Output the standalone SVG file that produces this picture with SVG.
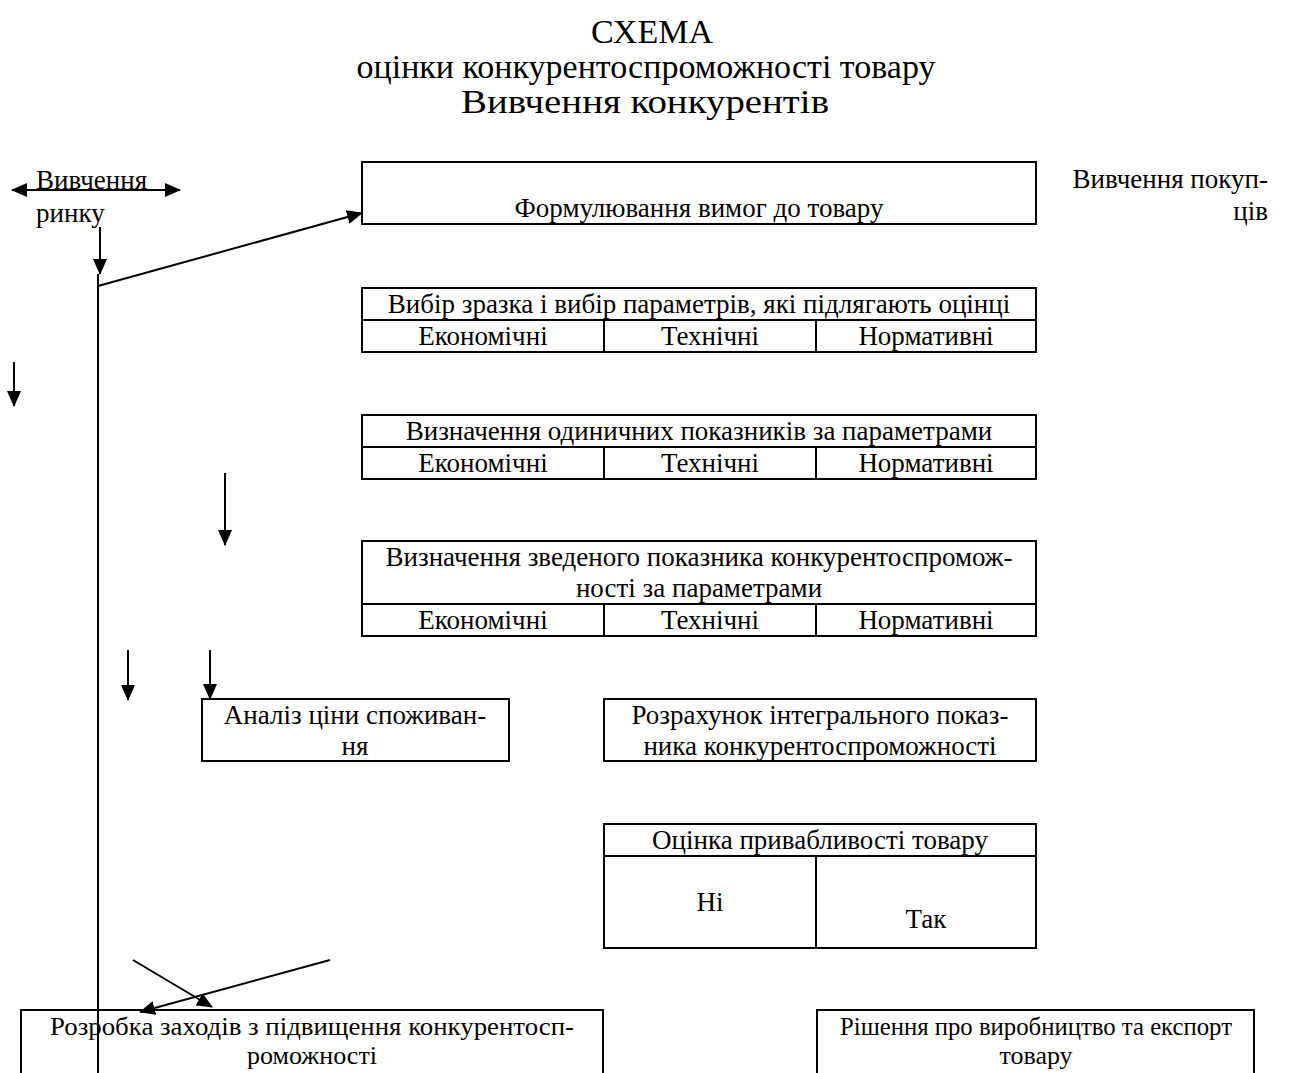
<svg xmlns="http://www.w3.org/2000/svg" width="1291" height="1073" viewBox="0 0 1291 1073">
<style>
text{font-family:"Liberation Serif","Times New Roman",serif;fill:#000}
.t{font-size:34px;text-anchor:middle}
.b{font-size:27px;text-anchor:middle}
.s{font-size:26px;text-anchor:middle}
.l{font-size:27px}
.box{fill:none;stroke:#000;stroke-width:2}
.ln{fill:none;stroke:#000;stroke-width:2}
.ar{fill:none;stroke:#000;stroke-width:2;marker-end:url(#ah)}
</style>
<defs>
<marker id="ah" markerUnits="userSpaceOnUse" markerWidth="16" markerHeight="14" refX="15" refY="7" orient="auto-start-reverse">
<path d="M0,0 L16,7 L0,14 z" fill="#000"/>
</marker>
</defs>
<rect width="1291" height="1073" fill="#fff"/>
<g id="title">
<text class="t" x="652" y="43">СХЕМА</text>
<text class="t" x="646" y="78">оцінки конкурентоспроможності товару</text>
<text class="t" x="645" y="113" textLength="368" lengthAdjust="spacingAndGlyphs">Вивчення конкурентів</text>
</g>
<g id="market">
<text class="l" x="36" y="189">Вивчення</text>
<text class="l" x="36" y="222">ринку</text>
</g>
<g id="buyers">
<text class="l" x="1268" y="188" text-anchor="end">Вивчення покуп-</text>
<text class="l" x="1268" y="220" text-anchor="end">ців</text>
</g>
<g id="requirements">
<rect class="box" x="362" y="162" width="674" height="62"/>
<text class="b" x="699" y="217">Формулювання вимог до товару</text>
</g>
<g id="selection">
<rect class="box" x="362" y="288" width="674" height="64"/>
<line class="ln" x1="362" y1="320" x2="1036" y2="320"/>
<line class="ln" x1="604" y1="320" x2="604" y2="352"/>
<line class="ln" x1="816" y1="320" x2="816" y2="352"/>
<text class="b" x="699" y="313">Вибір зразка і вибір параметрів, які підлягають оцінці</text>
<text class="b" x="483" y="345">Економічні</text>
<text class="b" x="710" y="345">Технічні</text>
<text class="b" x="926" y="345">Нормативні</text>
</g>
<g id="single">
<rect class="box" x="362" y="415" width="674" height="64"/>
<line class="ln" x1="362" y1="447" x2="1036" y2="447"/>
<line class="ln" x1="604" y1="447" x2="604" y2="479"/>
<line class="ln" x1="816" y1="447" x2="816" y2="479"/>
<text class="b" x="699" y="440">Визначення одиничних показників за параметрами</text>
<text class="b" x="483" y="472">Економічні</text>
<text class="b" x="710" y="472">Технічні</text>
<text class="b" x="926" y="472">Нормативні</text>
</g>
<g id="summary">
<rect class="box" x="362" y="541" width="674" height="95"/>
<line class="ln" x1="362" y1="604" x2="1036" y2="604"/>
<line class="ln" x1="604" y1="604" x2="604" y2="636"/>
<line class="ln" x1="816" y1="604" x2="816" y2="636"/>
<text class="b" x="699" y="566">Визначення зведеного показника конкурентоспромож-</text>
<text class="b" x="699" y="597">ності за параметрами</text>
<text class="b" x="483" y="629">Економічні</text>
<text class="b" x="710" y="629">Технічні</text>
<text class="b" x="926" y="629">Нормативні</text>
</g>
<g id="price">
<rect class="box" x="202" y="699" width="307" height="62"/>
<text class="b" x="355" y="724">Аналіз ціни споживан-</text>
<text class="b" x="355" y="755">ня</text>
</g>
<g id="integral">
<rect class="box" x="604" y="699" width="432" height="62"/>
<text class="b" x="820" y="724">Розрахунок інтегрального показ-</text>
<text class="b" x="820" y="755">ника конкурентоспроможності</text>
</g>
<g id="attractiveness">
<rect class="box" x="604" y="824" width="432" height="124"/>
<line class="ln" x1="604" y1="856" x2="1036" y2="856"/>
<line class="ln" x1="816" y1="856" x2="816" y2="948"/>
<text class="b" x="820" y="849">Оцінка привабливості товару</text>
<text class="b" x="710" y="911">Ні</text>
<text class="b" x="926" y="928">Так</text>
</g>
<g id="measures">
<rect class="box" x="21" y="1010" width="582" height="70"/>
<text class="s" x="312" y="1035" textLength="524" lengthAdjust="spacingAndGlyphs">Розробка заходів з підвищення конкурентосп-</text>
<text class="s" x="312" y="1064">роможності</text>
</g>
<g id="decision">
<rect class="box" x="817" y="1010" width="437" height="70"/>
<text class="s" x="1036" y="1035" textLength="392" lengthAdjust="spacingAndGlyphs">Рішення про виробництво та експорт</text>
<text class="s" x="1036" y="1064">товару</text>
</g>
<g id="connectors">
<line class="ln" x1="12" y1="190" x2="180" y2="190" style="marker-start:url(#ah);marker-end:url(#ah)"/>
<line class="ar" x1="100" y1="227" x2="100" y2="274"/>
<line class="ln" x1="98" y1="274" x2="98" y2="1073"/>
<line class="ar" x1="98" y1="286" x2="362" y2="213"/>
<line class="ar" x1="14" y1="362" x2="14" y2="406"/>
<line class="ar" x1="225" y1="473" x2="225" y2="545"/>
<line class="ar" x1="128" y1="650" x2="128" y2="700"/>
<line class="ar" x1="210" y1="650" x2="210" y2="699"/>
<line class="ar" x1="330" y1="960" x2="140" y2="1012"/>
<line class="ar" x1="133" y1="960" x2="212" y2="1007"/>
</g>
</svg>
